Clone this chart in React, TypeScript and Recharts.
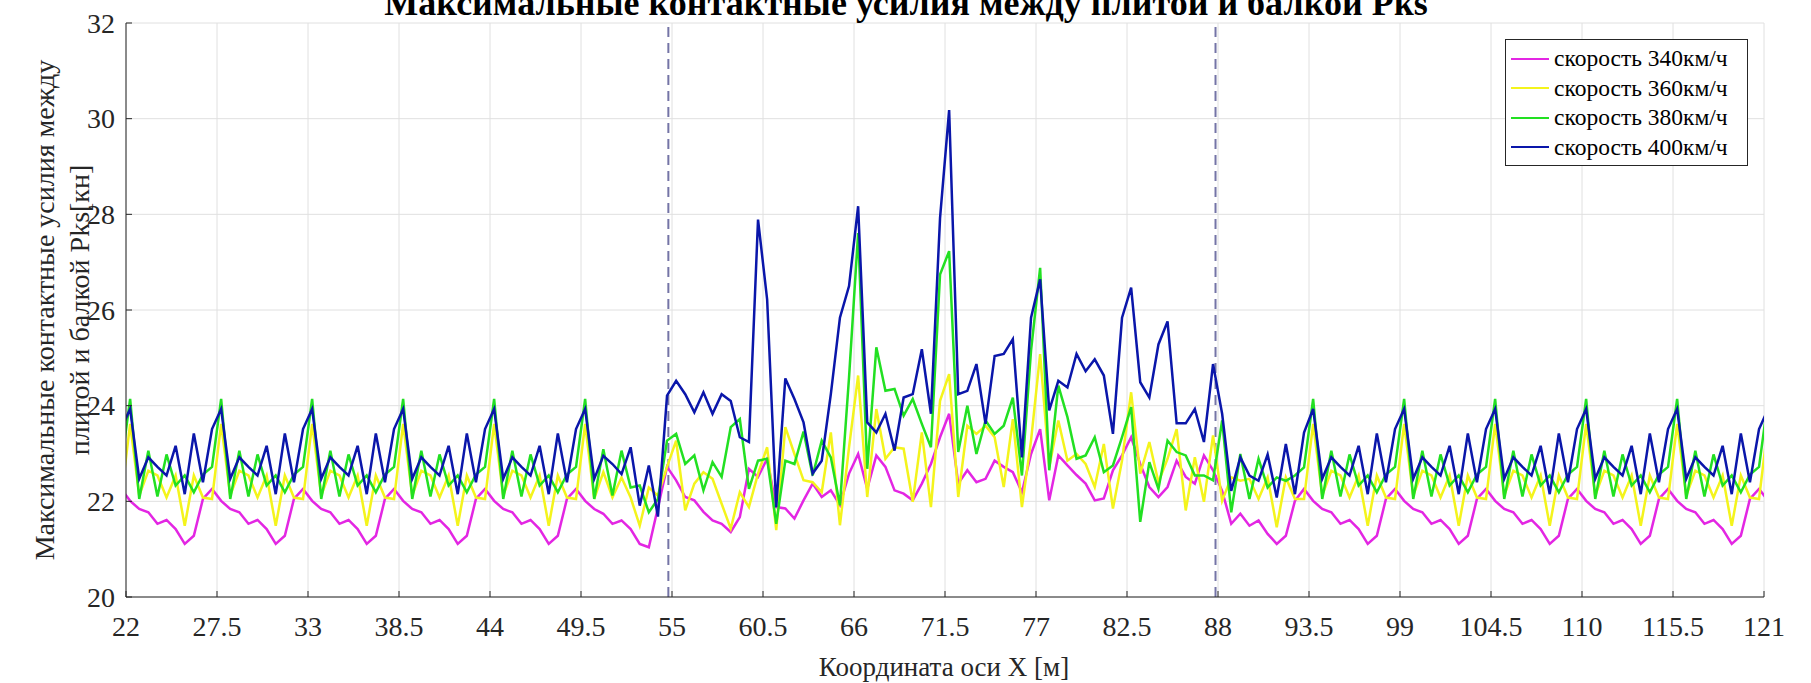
import React from 'react';
import { LineChart, Line, XAxis, YAxis, CartesianGrid, Legend, ReferenceLine } from 'recharts';

// sample positions along the X axis (m)
const xStart = 21.7;
const xStep = 0.55;

const xTicks = [22, 27.5, 33, 38.5, 44, 49.5, 55, 60.5, 66, 71.5, 77, 82.5, 88, 93.5, 99, 104.5, 110, 115.5, 121];
const yTicks = [20, 22, 24, 26, 28, 30, 32];
const sectionBorders = [54.78, 87.85];

const seriesNames = ['скорость 340км/ч', 'скорость 360км/ч', 'скорость 380км/ч', 'скорость 400км/ч'];
const seriesColors = ['#e326e3', '#f4f41c', '#22e022', '#0a16aa'];

const v340 = [
  22.26,
  22.01, 21.84, 21.77, 21.53, 21.61, 21.42, 21.11, 21.28, 22.05, 22.26,
  22.01, 21.84, 21.77, 21.53, 21.61, 21.42, 21.11, 21.28, 22.05, 22.26,
  22.01, 21.84, 21.77, 21.53, 21.61, 21.42, 21.11, 21.28, 22.05, 22.26,
  22.01, 21.84, 21.77, 21.53, 21.61, 21.42, 21.11, 21.28, 22.05, 22.26,
  22.01, 21.84, 21.77, 21.53, 21.61, 21.42, 21.11, 21.28, 22.05, 22.26,
  22.01, 21.84, 21.74, 21.53, 21.60, 21.42, 21.11, 21.04, 21.87, 22.72,
  22.44, 22.09, 22.02, 21.78, 21.60, 21.53, 21.36, 21.67, 22.68, 22.51,
  22.89, 21.88, 21.85, 21.64, 22.02, 22.37, 22.09, 22.23, 21.92, 22.58,
  22.99, 22.26, 22.96, 22.72, 22.23, 22.16, 22.02, 22.37, 22.78, 23.34,
  23.83, 22.37, 22.65, 22.40, 22.47, 22.85, 22.72, 22.61, 22.19, 22.99,
  23.51, 22.02, 22.96, 22.75, 22.55, 22.37, 22.02, 22.06, 22.65, 22.96,
  23.34, 22.78, 22.30, 22.09, 22.30, 22.85, 22.51, 22.37, 22.96, 22.65,
  22.22, 21.53, 21.74, 21.49, 21.60, 21.32, 21.11, 21.28, 22.01, 22.26,
  22.01, 21.84, 21.77, 21.53, 21.61, 21.42, 21.11, 21.28, 22.05, 22.26,
  22.01, 21.84, 21.77, 21.53, 21.61, 21.42, 21.11, 21.28, 22.05, 22.26,
  22.01, 21.84, 21.77, 21.53, 21.61, 21.42, 21.11, 21.28, 22.05, 22.26,
  22.01, 21.84, 21.77, 21.53, 21.61, 21.42, 21.11, 21.28, 22.05, 22.26,
  22.01, 21.84, 21.77, 21.53, 21.61, 21.42, 21.11, 21.28, 22.05, 22.26,
  22.01,
];

const v360 = [
  22.05,
  23.62, 22.12, 22.64, 22.54, 22.08, 22.54, 21.49, 22.54, 22.08, 22.05,
  23.62, 22.12, 22.64, 22.54, 22.08, 22.54, 21.49, 22.54, 22.08, 22.05,
  23.62, 22.12, 22.64, 22.54, 22.08, 22.54, 21.49, 22.54, 22.08, 22.05,
  23.62, 22.12, 22.64, 22.54, 22.08, 22.54, 21.49, 22.54, 22.08, 22.05,
  23.62, 22.12, 22.64, 22.54, 22.08, 22.54, 21.49, 22.54, 22.08, 22.05,
  23.62, 22.05, 22.61, 22.08, 22.50, 22.08, 21.49, 22.29, 22.12, 22.72,
  23.27, 21.81, 22.37, 22.61, 22.47, 21.95, 21.43, 22.19, 21.88, 22.58,
  23.13, 21.40, 23.55, 22.99, 22.44, 22.40, 22.19, 23.44, 21.50, 23.13,
  24.63, 22.09, 23.93, 22.89, 23.13, 23.10, 21.99, 23.44, 21.88, 24.10,
  24.66, 22.09, 23.58, 23.41, 23.58, 23.34, 22.30, 23.72, 21.88, 23.27,
  25.08, 22.72, 23.69, 22.85, 22.99, 22.78, 22.30, 23.20, 21.85, 22.85,
  24.28, 22.58, 23.24, 22.40, 22.89, 23.51, 21.81, 22.92, 21.99, 23.38,
  22.01, 22.50, 22.43, 22.47, 22.05, 22.50, 21.46, 22.50, 22.05, 22.05,
  23.62, 22.12, 22.64, 22.54, 22.08, 22.54, 21.49, 22.54, 22.08, 22.05,
  23.62, 22.12, 22.64, 22.54, 22.08, 22.54, 21.49, 22.54, 22.08, 22.05,
  23.62, 22.12, 22.64, 22.54, 22.08, 22.54, 21.49, 22.54, 22.08, 22.05,
  23.62, 22.12, 22.64, 22.54, 22.08, 22.54, 21.49, 22.54, 22.08, 22.05,
  23.62, 22.12, 22.64, 22.54, 22.08, 22.54, 21.49, 22.54, 22.08, 22.05,
  23.62,
];

const v380 = [
  22.72,
  24.14, 22.05, 23.06, 22.10, 22.98, 22.33, 22.54, 22.19, 22.56, 22.72,
  24.14, 22.05, 23.06, 22.10, 22.98, 22.33, 22.54, 22.19, 22.56, 22.72,
  24.14, 22.05, 23.06, 22.10, 22.98, 22.33, 22.54, 22.19, 22.56, 22.72,
  24.14, 22.05, 23.06, 22.10, 22.98, 22.33, 22.54, 22.19, 22.56, 22.72,
  24.14, 22.05, 23.06, 22.10, 22.98, 22.33, 22.54, 22.19, 22.56, 22.72,
  24.14, 22.05, 23.09, 22.12, 23.06, 22.29, 22.33, 21.77, 22.05, 23.27,
  23.41, 22.78, 22.96, 22.23, 22.82, 22.51, 23.55, 23.72, 22.26, 22.85,
  22.89, 21.53, 22.85, 22.78, 23.46, 22.54, 23.27, 22.92, 21.92, 24.59,
  27.61, 22.68, 25.22, 24.31, 24.35, 23.79, 24.14, 23.62, 23.13, 26.74,
  27.23, 23.03, 24.00, 22.99, 23.69, 23.41, 23.58, 24.17, 22.54, 25.15,
  26.88, 22.65, 24.42, 23.76, 22.89, 22.96, 23.34, 22.61, 22.75, 23.34,
  23.97, 21.57, 22.82, 22.26, 23.27, 23.03, 22.96, 22.54, 22.54, 22.44,
  23.69, 21.77, 22.99, 22.05, 22.89, 22.29, 22.50, 22.43, 22.54, 22.71,
  24.14, 22.05, 23.06, 22.10, 22.98, 22.33, 22.54, 22.19, 22.56, 22.72,
  24.14, 22.05, 23.06, 22.10, 22.98, 22.33, 22.54, 22.19, 22.56, 22.72,
  24.14, 22.05, 23.06, 22.10, 22.98, 22.33, 22.54, 22.19, 22.56, 22.72,
  24.14, 22.05, 23.06, 22.10, 22.98, 22.33, 22.54, 22.19, 22.56, 22.72,
  24.14, 22.05, 23.06, 22.10, 22.98, 22.33, 22.54, 22.19, 22.56, 22.72,
  24.14,
];

const v400 = [
  23.51,
  23.93, 22.47, 22.92, 22.72, 22.54, 23.16, 22.15, 23.42, 22.40, 23.51,
  23.93, 22.47, 22.92, 22.72, 22.54, 23.16, 22.15, 23.42, 22.40, 23.51,
  23.93, 22.47, 22.92, 22.72, 22.54, 23.16, 22.15, 23.42, 22.40, 23.51,
  23.93, 22.47, 22.92, 22.72, 22.54, 23.16, 22.15, 23.42, 22.40, 23.51,
  23.93, 22.47, 22.92, 22.72, 22.54, 23.16, 22.15, 23.42, 22.40, 23.51,
  23.93, 22.47, 22.95, 22.78, 22.57, 23.13, 21.91, 22.75, 21.68, 24.21,
  24.52, 24.24, 23.86, 24.28, 23.83, 24.24, 24.10, 23.34, 23.24, 27.89,
  26.22, 21.88, 24.57, 24.14, 23.65, 22.58, 22.85, 24.24, 25.84, 26.50,
  28.17, 23.65, 23.44, 23.83, 23.06, 24.17, 24.24, 25.18, 23.83, 27.92,
  30.18, 24.24, 24.31, 24.87, 23.62, 25.04, 25.08, 25.39, 22.92, 25.84,
  26.64, 23.90, 24.52, 24.38, 25.08, 24.72, 24.97, 24.63, 23.41, 25.84,
  26.47, 24.49, 24.17, 25.28, 25.76, 23.63, 23.63, 23.93, 23.24, 24.87,
  23.83, 22.22, 22.92, 22.54, 22.43, 22.98, 22.08, 23.20, 22.15, 23.44,
  23.93, 22.47, 22.92, 22.72, 22.54, 23.16, 22.15, 23.42, 22.40, 23.51,
  23.93, 22.47, 22.92, 22.72, 22.54, 23.16, 22.15, 23.42, 22.40, 23.51,
  23.93, 22.47, 22.92, 22.72, 22.54, 23.16, 22.15, 23.42, 22.40, 23.51,
  23.93, 22.47, 22.92, 22.72, 22.54, 23.16, 22.15, 23.42, 22.40, 23.51,
  23.93, 22.47, 22.92, 22.72, 22.54, 23.16, 22.15, 23.42, 22.40, 23.51,
  23.93,
];

const seriesKeys = ['s340', 's360', 's380', 's400'];
const seriesValues = [v340, v360, v380, v400];

const data = v340.map((_, i) => {
  const row: { [k: string]: number } = { x: +(xStart + i * xStep).toFixed(2) };
  seriesKeys.forEach((key, s) => { row[key] = seriesValues[s][i]; });
  return row;
});

const FONT = '"Liberation Serif", "Times New Roman", serif';
const INK = '#262626';
const serif = { fontFamily: FONT };

const XTick = (props: any) => {
  const { x, y, payload } = props;
  return (
    <text x={x} y={y} dy="0.71em" textAnchor="middle" fill={INK} fontSize={28} style={serif}>
      {payload.value}
    </text>
  );
};

const YTick = (props: any) => {
  const { x, y, payload } = props;
  return (
    <text x={x} y={y} dy="0.34em" textAnchor="end" fill={INK} fontSize={28} style={serif}>
      {payload.value}
    </text>
  );
};

const YTitle = () => (
  <g fill={INK} fontSize={28} style={serif}>
    <text transform="translate(44,310) rotate(-90)" textAnchor="middle" dominantBaseline="central" style={serif}>
      Максимальные контактные усилия между
    </text>
    <text transform="translate(79,310) rotate(-90)" textAnchor="middle" dominantBaseline="central" style={serif}>
      плитой и балкой Pks[кн]
    </text>
  </g>
);

const XTitle = () => (
  <text x={944} y={667} fill={INK} fontSize={27} textAnchor="middle" dominantBaseline="central" style={serif}>
    Координата оси X [м]
  </text>
);

const LegendBox = () => (
  <div
    style={{
      width: 243,
      height: 127,
      boxSizing: 'border-box',
      border: `1px solid ${INK}`,
      background: '#fff',
      padding: '4px 0 0 5px',
      fontFamily: FONT,
      fontSize: 23.5,
      color: '#000',
    }}
  >
    {seriesNames.map((name, i) => (
      <div key={name} style={{ display: 'flex', alignItems: 'center', height: 29.5 }}>
        <span style={{ display: 'inline-block', width: 38, height: 2, background: seriesColors[i], marginRight: 5 }} />
        <span>{name}</span>
      </div>
    ))}
  </div>
);

export default function App() {
  return (
    <div style={{ position: 'absolute', left: 0, top: 0, width: 1811, height: 683, background: '#fff' }}>
      <LineChart width={1811} height={683} data={data} margin={{ top: 23, right: 47, bottom: 0, left: 26 }}>
        <CartesianGrid stroke="#e0e0e0" strokeWidth={1} />
        <XAxis
          dataKey="x"
          type="number"
          domain={[22, 121]}
          ticks={xTicks}
          allowDataOverflow
          height={86}
          interval={0}
          stroke={INK}
          tickSize={-6}
          tickMargin={25}
          tick={<XTick />}
          label={<XTitle />}
        />
        <XAxis
          xAxisId="top"
          dataKey="x"
          type="number"
          orientation="top"
          domain={[22, 121]}
          ticks={xTicks}
          allowDataOverflow
          height={0}
          interval={0}
          stroke={INK}
          tickSize={-6}
          tick={false}
        />
        <YAxis
          type="number"
          domain={[20, 32]}
          ticks={yTicks}
          allowDataOverflow
          width={100}
          interval={0}
          stroke={INK}
          tickSize={-6}
          tickMargin={17}
          tick={<YTick />}
          label={<YTitle />}
        />
        <YAxis
          yAxisId="right"
          orientation="right"
          type="number"
          domain={[20, 32]}
          ticks={yTicks}
          width={0}
          interval={0}
          stroke={INK}
          tickSize={-6}
          tick={false}
        />
        {sectionBorders.map((bx) => (
          <ReferenceLine key={bx} x={bx} stroke="#7474a6" strokeWidth={2} strokeDasharray="10 6" />
        ))}
        {seriesKeys.map((key, i) => (
          <Line
            key={key}
            type="linear"
            dataKey={key}
            name={seriesNames[i]}
            stroke={seriesColors[i]}
            strokeWidth={2.5}
            dot={false}
            activeDot={false}
            isAnimationActive={false}
          />
        ))}
        <Legend
          layout="vertical"
          align="center"
          verticalAlign="middle"
          content={<LegendBox />}
          wrapperStyle={{ position: 'absolute', left: 1505, top: 39, width: 243, height: 127 }}
        />
      </LineChart>
      <svg width={1811} height={40} style={{ position: 'absolute', left: 0, top: 0, pointerEvents: 'none' }}>
        <text x={906} y={15} textAnchor="middle" fontWeight="bold" fontSize={36} fill="#000" style={serif}>
          Максимальные контактные усилия между плитой и балкой Pks
        </text>
      </svg>
    </div>
  );
}
